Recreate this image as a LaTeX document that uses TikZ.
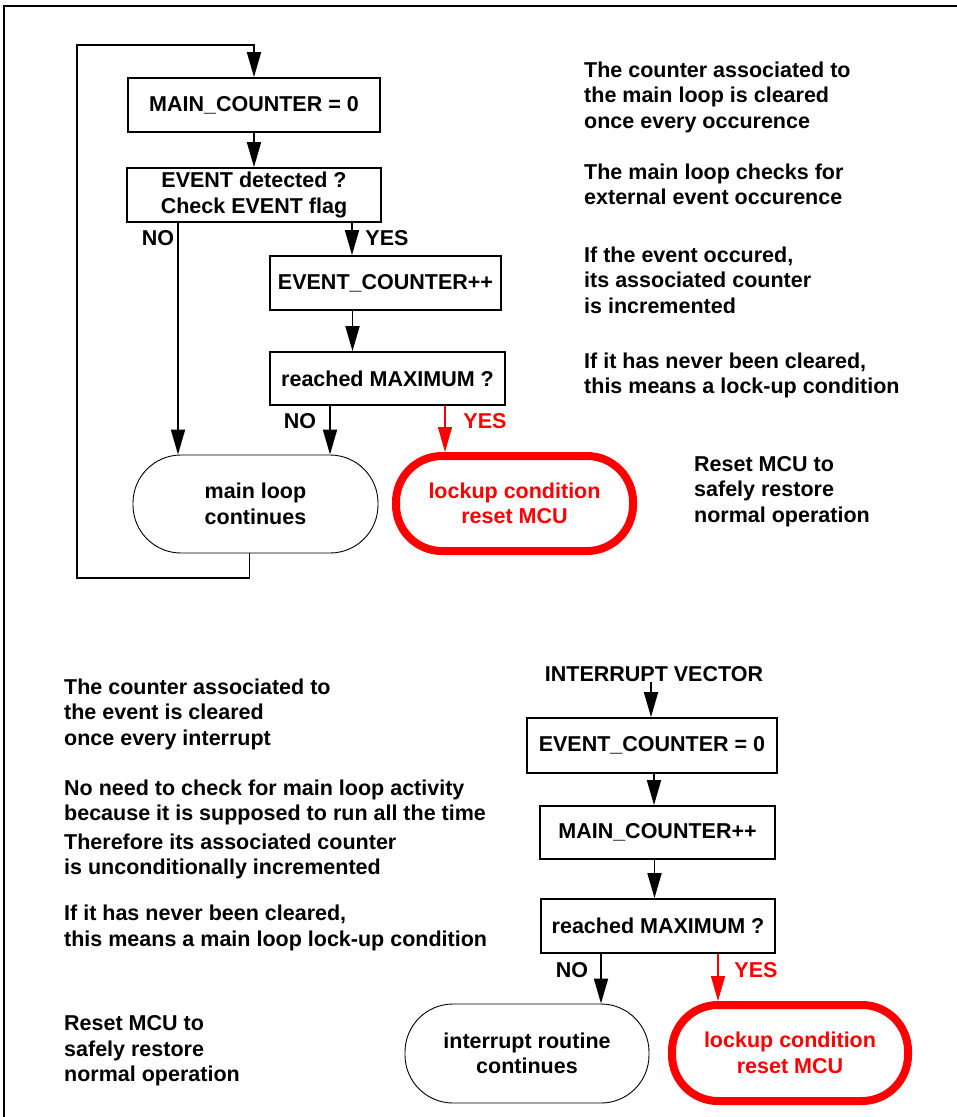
\documentclass[tikz,border=0pt]{standalone}
\usepackage{fontspec}
\setmainfont{Liberation Sans}
\usepackage{tikz}
\usetikzlibrary{arrows.meta}
\newcommand{\flowfont}{\fontsize{21.5}{25.5}\selectfont\bfseries}

\begin{document}
\begin{tikzpicture}[x=1pt,y=-1pt,
        every node/.style={font=\flowfont, inner sep=0pt},
        stepbox/.style={draw=black, line width=1.8pt, rectangle, align=center},
        contbox/.style={draw=black, line width=0.9pt, rounded corners=48pt, align=center},
        lockbox/.style={draw=red, text=red, line width=8pt, rounded corners=46pt, align=center},
        note/.style={align=left, anchor=west},
        flow/.style={line width=1.8pt, -{Triangle[length=25pt,width=14pt]}},
        redflow/.style={red, line width=1.4pt, -{Triangle[length=25pt,width=14pt]}}]
        \useasboundingbox (0,0) rectangle (957,1117);

        % Frame
        \draw[black, line width=1.8pt] (4,1117) -- (4,6) -- (957,6);

        % Main loop
        \node[stepbox, minimum width=252pt, minimum height=54pt] (cnt1) at (254,105) {MAIN\_COUNTER = 0};
        \node[stepbox, minimum width=254pt, minimum height=54pt] (chk) at (254,195) {EVENT detected ?\\Check EVENT flag};
        \node[stepbox, minimum width=231pt, minimum height=54pt] (inc) at (385.5,283) {EVENT\_COUNTER++};
        \node[stepbox, minimum width=235pt, minimum height=53pt] (max1) at (387.5,378.5) {reached MAXIMUM ?};
        \node[contbox, minimum width=245pt, minimum height=98pt] (mainloop) at (255.5,504) {main loop\\continues};
        \node[lockbox, minimum width=237pt, minimum height=95pt] (lock1) at (514.5,503.5) {lockup condition\\reset MCU};

        \draw[flow] (cnt1.south) -- (chk.north);
        \draw[flow] ([xshift=-76pt]chk.south) -- ([xshift=-76pt]chk.south |- mainloop.north);
        \node (no1) at (158,238) {NO};
        \draw[flow] ([xshift=98pt]chk.south) -- ([xshift=98pt]chk.south |- inc.north);
        \node (yes1) at (387,238) {YES};
        \draw[flow] ([xshift=-33pt]inc.south) -- ([xshift=-33pt]inc.south |- max1.north);
        \draw[flow] ([xshift=-57.5pt]max1.south) -- ([xshift=-57.5pt]max1.south |- mainloop.north);
        \node (no2) at (300,421) {NO};
        \draw[redflow] ([xshift=57.5pt]max1.south) -- ([xshift=57.5pt]max1.south |- lock1.north);
        \node[red] (yes2) at (485,421) {YES};

        % Loop back
        \coordinate (loopbl) at (77,578);
        \coordinate (looptl) at (77,45);
        \draw[flow] ([xshift=-6pt]mainloop.south) -- ([xshift=-6pt]mainloop.south |- loopbl) -- (loopbl) -- (looptl) -- (looptl -| cnt1.north) -- (cnt1.north);

        % Notes of the main loop
        \node[note] (n1) at (584,97) {The counter associated to\\the main loop is cleared\\once every occurence};
        \node[note] (n2) at (584,184.5) {The main loop checks for\\external event occurence};
        \node[note] (n3) at (584,280) {If the event occured,\\its associated counter\\is incremented};
        \node[note] (n4) at (584,375.5) {If it has never been cleared,\\this means a lock-up condition};
        \node[note] (n5) at (694,491.5) {Reset MCU to\\safely restore\\normal operation};

        % Interrupt routine
        \node (vec) at (654,674) {INTERRUPT VECTOR};
        \node[stepbox, minimum width=250pt, minimum height=55pt] (evc) at (652,745.5) {EVENT\_COUNTER = 0};
        \node[stepbox, minimum width=235pt, minimum height=53pt] (mcp) at (657.5,832.5) {MAIN\_COUNTER++};
        \node[stepbox, minimum width=234pt, minimum height=54pt] (max2) at (658,926) {reached MAXIMUM ?};
        \node[contbox, minimum width=244pt, minimum height=99pt] (introut) at (527,1053.5) {interrupt routine\\continues};
        \node[lockbox, minimum width=236pt, minimum height=96pt] (lock2) at (790,1053) {lockup condition\\reset MCU};

        \draw[flow] ([xshift=-3pt]vec.south) -- ([xshift=-3pt]vec.south |- evc.north);
        \draw[flow] ([xshift=2pt]evc.south) -- ([xshift=2pt]evc.south |- mcp.north);
        \draw[flow] ([xshift=-3pt]mcp.south) -- ([xshift=-3pt]mcp.south |- max2.north);
        \draw[flow] ([xshift=-57pt]max2.south) -- ([xshift=-57pt]max2.south |- introut.north);
        \node (no3) at (572,970) {NO};
        \draw[redflow] ([xshift=60pt]max2.south) -- ([xshift=60pt]max2.south |- lock2.north);
        \node[red] (yes3) at (756,970) {YES};

        % Notes of the interrupt routine
        \node[note] (m1) at (64,714) {The counter associated to\\the event is cleared\\once every interrupt};
        \node[note] (m2) at (64,802.5) {No need to check for main loop activity\\because it is supposed to run all the time};
        \node[note] (m3) at (64,856.5) {Therefore its associated counter\\is unconditionally incremented};
        \node[note] (m4) at (64,928) {If it has never been cleared,\\this means a main loop lock-up condition};
        \node[note] (m5) at (64,1051) {Reset MCU to\\safely restore\\normal operation};
\end{tikzpicture}
\end{document}
